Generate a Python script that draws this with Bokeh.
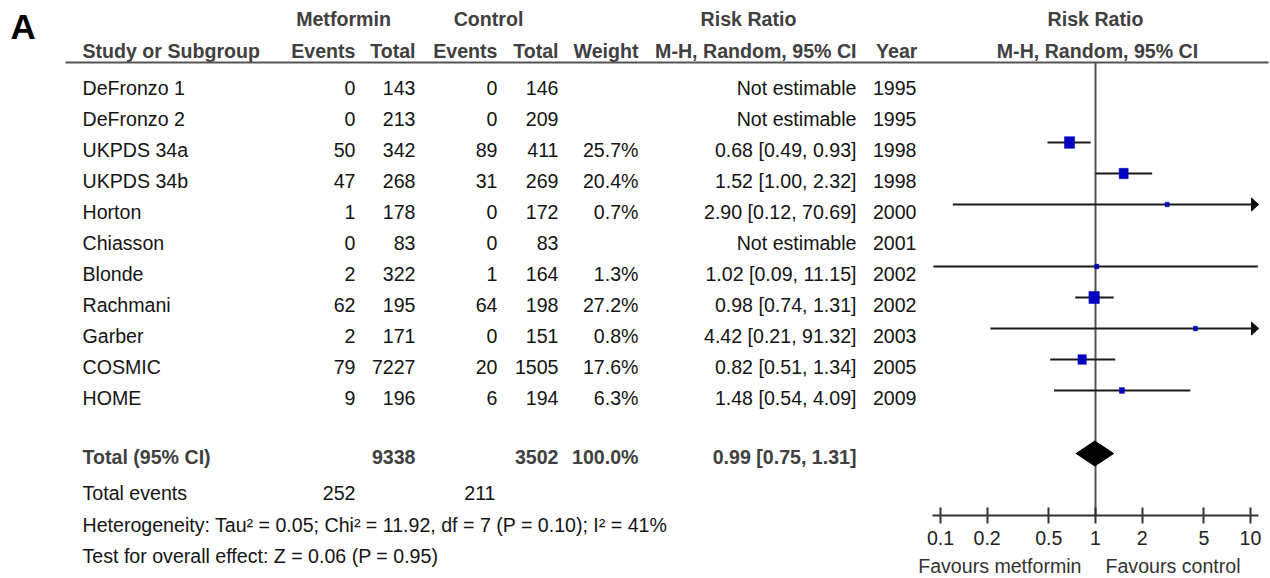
from bokeh.plotting import figure
from bokeh.models import (Range1d, FixedTicker, CustomJSTickFormatter, ColumnDataSource,
                          LogScale, LogAxis)
from bokeh.core.properties import value
from bokeh.embed import file_html
from bokeh.resources import INLINE

# ---------------- data ----------------
studies = ["DeFronzo 1", "DeFronzo 2", "UKPDS 34a", "UKPDS 34b", "Horton", "Chiasson",
           "Blonde", "Rachmani", "Garber", "COSMIC", "HOME"]
met_events = [0, 0, 50, 47, 1, 0, 2, 62, 2, 79, 9]
met_total = [143, 213, 342, 268, 178, 83, 322, 195, 171, 7227, 196]
ctl_events = [0, 0, 89, 31, 0, 0, 1, 64, 0, 20, 6]
ctl_total = [146, 209, 411, 269, 172, 83, 164, 198, 151, 1505, 194]
weights = [None, None, 25.7, 20.4, 0.7, None, 1.3, 27.2, 0.8, 17.6, 6.3]
rr = [None, None, 0.68, 1.52, 2.90, None, 1.02, 0.98, 4.42, 0.82, 1.48]
rr_lo = [None, None, 0.49, 1.00, 0.12, None, 0.09, 0.74, 0.21, 0.51, 0.54]
rr_hi = [None, None, 0.93, 2.32, 70.69, None, 11.15, 1.31, 91.32, 1.34, 4.09]
years = [1995, 1995, 1998, 1998, 2000, 2001, 2002, 2002, 2003, 2005, 2009]

total_met = 9338
total_ctl = 3502
total_weight = 100.0
total_rr, total_lo, total_hi = 0.99, 0.75, 1.31
events_met = 252
events_ctl = 211
heterogeneity = "Heterogeneity: Tau\u00b2 = 0.05; Chi\u00b2 = 11.92, df = 7 (P = 0.10); I\u00b2 = 41%"
overall = "Test for overall effect: Z = 0.06 (P = 0.95)"
tick_values = [0.1, 0.2, 0.5, 1, 2, 5, 10]

# ---------------- layout constants (page pixels) ----------------
W, H = 1270, 578
FONT = "Liberation Sans"
FS = "19.6px"
HEAD_C = "#404040"
TXT_C = "#141414"
ROW0 = 87.5
ROWH = 31
MARK_OFF = -7.5

C1 = 1095.0   # page x of RR = 1
PPD = 155.0   # pixels per decade


def px2x(px):
    return 10 ** ((px - C1) / PPD)


AX_MIN, AX_MAX = px2x(932), px2x(1258)
AXIS_Y = 515

n = len(studies)
text_y = [ROW0 + ROWH * i for i in range(n)]
mark_y = [y + MARK_OFF for y in text_y]

p = figure(width=W, height=H, x_range=Range1d(0, W), y_range=Range1d(H, 0),
           extra_x_ranges={"rr": Range1d(px2x(0), px2x(W))},
           extra_x_scales={"rr": LogScale()},
           output_backend="svg", toolbar_location=None, min_border=0,
           x_axis_location=None, y_axis_location=None)
p.grid.visible = False
p.outline_line_color = None


def txt(xs, ys, texts, align="left", bold=False, color=TXT_C, size=FS):
    p.text(x=xs, y=ys, text=texts, text_align=align, text_baseline="middle",
           text_font=value(FONT), text_font_size=size,
           text_font_style="bold" if bold else "normal", text_color=color)


# big panel letter
txt([10], [26], ["A"], "left", True, "#000000", "35px")

# header rows
txt([343, 488, 748, 1095], [18.5] * 4, ["Metformin", "Control", "Risk Ratio", "Risk Ratio"],
    "center", True, HEAD_C)
txt([82], [50], ["Study or Subgroup"], "left", True, HEAD_C)
txt([355, 415, 497, 558, 638, 856, 917], [50] * 7,
    ["Events", "Total", "Events", "Total", "Weight", "M-H, Random, 95% CI", "Year"],
    "right", True, HEAD_C)
txt([1097], [50], ["M-H, Random, 95% CI"], "center", True, HEAD_C)
p.segment(x0=[65], y0=[62], x1=[1268], y1=[62], line_color="#555555", line_width=2)

# study rows
txt([82] * n, text_y, studies, "left")
txt([355] * n, text_y, [str(v) for v in met_events], "right")
txt([415] * n, text_y, [str(v) for v in met_total], "right")
txt([497] * n, text_y, [str(v) for v in ctl_events], "right")
txt([558] * n, text_y, [str(v) for v in ctl_total], "right")
txt([638] * n, text_y, ["" if w is None else f"{w:.1f}%" for w in weights], "right")
ci_txt = ["Not estimable" if r is None else f"{r:.2f} [{l:.2f}, {h:.2f}]"
          for r, l, h in zip(rr, rr_lo, rr_hi)]
txt([856] * n, text_y, ci_txt, "right")
txt([916] * n, text_y, [str(y) for y in years], "right")

# totals
TY = 456
txt([82], [TY], ["Total (95% CI)"], "left", True, HEAD_C)
txt([415, 558, 638, 856], [TY] * 4,
    [str(total_met), str(total_ctl), f"{total_weight:.1f}%",
     f"{total_rr:.2f} [{total_lo:.2f}, {total_hi:.2f}]"], "right", True, HEAD_C)
txt([82], [492], ["Total events"], "left")
txt([355, 495], [492] * 2, [str(events_met), str(events_ctl)], "right")
txt([82], [524], [heterogeneity], "left")
txt([82], [555.5], [overall], "left")

# ---------------- forest panel (log scale) ----------------
p.segment(x0=[1], y0=[62], x1=[1], y1=[AXIS_Y], x_range_name="rr",
          line_color="#555555", line_width=2)

idx = [i for i in range(n) if rr[i] is not None]
x0 = [max(rr_lo[i], AX_MIN) for i in idx]
x1 = [min(rr_hi[i], AX_MAX) for i in idx]
ys = [mark_y[i] for i in idx]
p.segment(x0=x0, y0=ys, x1=x1, y1=ys, x_range_name="rr", line_color="#1a1a1a", line_width=2)

# arrow heads for intervals beyond the axis
head_xs, head_ys = [], []
for i in idx:
    if rr_hi[i] > AX_MAX:
        y = mark_y[i]
        back = AX_MAX / 10 ** (7 / PPD)
        head_xs.append([AX_MAX, back, back])
        head_ys.append([y, y - 6.5, y + 6.5])
if head_xs:
    p.patches(xs=head_xs, ys=head_ys, x_range_name="rr",
              fill_color="#111111", line_color="#111111", line_width=1)

sizes = [max(4.0, 2.0 * weights[i] ** 0.5) for i in idx]
src = ColumnDataSource(dict(x=[rr[i] for i in idx], y=ys, w=sizes, h=[s * 1.15 for s in sizes]))
p.rect(x="x", y="y", width="w", height="h", width_units="screen", height_units="screen",
       source=src, x_range_name="rr", fill_color="#0000c0", line_color="#0000c0", line_width=0.5)

# overall diamond
DY = 453
p.patch(x=[total_lo, total_rr, total_hi, total_rr], y=[DY, DY - 12.5, DY, DY + 12.5],
        x_range_name="rr", fill_color="#000000", line_color="#000000")

ax = LogAxis(x_range_name="rr", fixed_location=AXIS_Y)
ax.ticker = FixedTicker(ticks=tick_values)
ax.formatter = CustomJSTickFormatter(code="return String(Math.round(tick*10)/10);")
ax.bounds = (AX_MIN, AX_MAX)
ax.axis_line_width = 2
ax.axis_line_color = "#333333"
ax.major_tick_in = 8
ax.major_tick_out = 8
ax.major_tick_line_width = 2
ax.major_tick_line_color = "#333333"
ax.minor_tick_line_color = None
ax.major_label_text_font = FONT
ax.major_label_text_font_size = FS
ax.major_label_text_color = "#222222"
ax.major_label_standoff = 7
p.add_layout(ax, "below")

txt([1081], [565.5], ["Favours metformin"], "right", False, "#333333")
txt([1105], [565.5], ["Favours control"], "left", False, "#333333")

open("out.html", "w").write(file_html(p, INLINE))
